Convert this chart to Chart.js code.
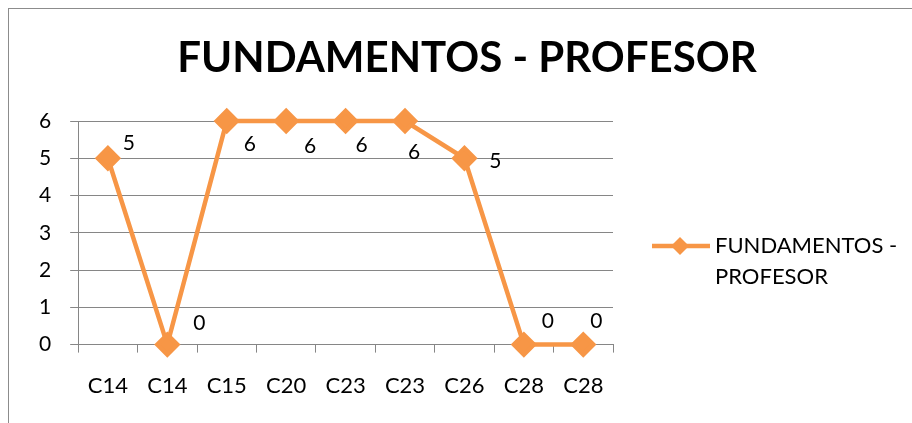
<!DOCTYPE html>
<html lang="es">
<head>
  <meta charset="UTF-8" />
  <title>Fundamentos - Profesor</title>
  <script src="https://cdn.jsdelivr.net/npm/chart.js"></script>
  <style>
    html, body { margin: 0; padding: 0; background: #fff; overflow: hidden; }
    .frame {
      position: absolute; left: 8px; top: 8px;
      width: 1000px; height: 500px;
      border: 1px solid #8c8c8c; box-sizing: border-box;
    }
    .wrap { position: absolute; left: 0; top: 0; width: 912px; height: 423px; }
  </style>
</head>
<body>
  <div class="frame"></div>
  <div class="wrap"><canvas id="grafico"></canvas></div>

<script>
  const categorias = ['C14', 'C14', 'C15', 'C20', 'C23', 'C23', 'C26', 'C28', 'C28'];
  const valores = [5, 0, 6, 6, 6, 6, 5, 0, 0];
  const serie = 'FUNDAMENTOS - PROFESOR';
  const naranja = '#F79646';
  const fuente = 'Lato, "Open Sans", sans-serif';

  // posición de cada etiqueta respecto al punto (como en el original)
  const desplaz = [[21, -15], [32, -21], [23, 23], [24, 25], [16, 24], [9, 31], [31, 3], [24, -23], [13, -23]];

  const etiquetas = {
    id: 'etiquetas',
    afterDatasetsDraw(chart) {
      const ctx = chart.ctx;
      const meta = chart.getDatasetMeta(0);
      ctx.save();
      ctx.font = '21px ' + fuente;
      ctx.fillStyle = '#000';
      ctx.textAlign = 'center';
      ctx.textBaseline = 'middle';
      meta.data.forEach((p, i) => {
        const d = desplaz[i] || [20, -15];
        ctx.fillText(String(valores[i]), p.x + d[0], p.y + d[1]);
      });
      ctx.restore();
    }
  };

  // título y leyenda (en dos líneas) a mano
  const extras = {
    id: 'extras',
    afterDraw(chart) {
      const ctx = chart.ctx;
      ctx.save();
      ctx.fillStyle = '#000';
      ctx.font = 'bold 42px ' + fuente;
      ctx.textAlign = 'center';
      ctx.textBaseline = 'alphabetic';
      ctx.fillText(serie, 467, 72);

      const y = 246;
      ctx.strokeStyle = naranja;
      ctx.lineWidth = 4.5;
      ctx.beginPath();
      ctx.moveTo(652, y);
      ctx.lineTo(710, y);
      ctx.stroke();
      ctx.fillStyle = naranja;
      ctx.beginPath();
      ctx.moveTo(680, y - 9);
      ctx.lineTo(689, y);
      ctx.lineTo(680, y + 9);
      ctx.lineTo(671, y);
      ctx.closePath();
      ctx.fill();
      ctx.fillStyle = '#000';
      ctx.font = '22px ' + fuente;
      ctx.textAlign = 'left';
      ctx.textBaseline = 'middle';
      ctx.fillText('FUNDAMENTOS -', 715, y);
      ctx.fillText('PROFESOR', 715, y + 31);
      ctx.restore();
    }
  };

  new Chart(document.getElementById('grafico'), {
    type: 'line',
    data: {
      labels: categorias,
      datasets: [{
        label: serie,
        data: valores,
        borderColor: naranja,
        backgroundColor: naranja,
        borderWidth: 4.5,
        pointStyle: 'rectRot',
        pointRadius: 10,
        pointHoverRadius: 10,
        tension: 0,
        clip: false
      }]
    },
    options: {
      responsive: true,
      maintainAspectRatio: false,
      animation: false,
      layout: { padding: { left: 20, right: 299, top: 121, bottom: 4 } },
      plugins: {
        legend: { display: false },
        tooltip: { enabled: false },
        title: { display: false }
      },
      scales: {
        x: {
          offset: true,
          grid: { offset: true, drawOnChartArea: false, color: '#868686', tickLength: 8 },
          border: { color: '#868686' },
          ticks: { color: '#000', font: { family: fuente, size: 22 }, padding: 20, maxRotation: 0 }
        },
        y: {
          min: 0, max: 6,
          ticks: { stepSize: 1, color: '#000', font: { family: fuente, size: 21 }, padding: 19 },
          grid: { color: '#868686', tickLength: 8 },
          border: { color: '#868686' }
        }
      }
    },
    plugins: [etiquetas, extras]
  });
</script>
</body>
</html>
